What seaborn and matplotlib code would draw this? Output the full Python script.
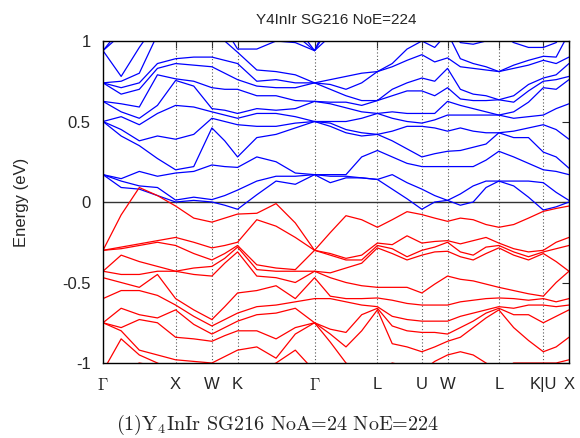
import numpy as np
import pandas as pd
import matplotlib
matplotlib.use("Agg")
import matplotlib.pyplot as plt
import seaborn as sns

# ---- k-path -------------------------------------------------------------
k_labels = [r"$\Gamma$", "X", "W", "K", r"$\Gamma$", "L", "U", "W", "L", "K|U", "X"]
seg_lengths = [1.0, 0.5, 0.3536, 1.0607, 0.8660, 0.6124, 0.3536, 0.7071, 0.6124, 0.3536]
seg_samples = [4, 2, 2, 4, 4, 3, 2, 4, 3, 2]

# ---- conduction bands (eV), one list per k sample, sorted -----------------
cb_00 = [0.17, 0.17, 0.17, 0.50, 0.50, 0.50, 0.625, 0.625, 0.74, 0.74, 0.74, 0.94, 0.94, 0.94]
cb_01 = [0.09, 0.13, 0.145, 0.41, 0.45, 0.53, 0.56, 0.61, 0.67, 0.71, 0.75, 0.78, 1.04, 1.08]
cb_02 = [0.08, 0.10, 0.19, 0.35, 0.38, 0.48, 0.52, 0.59, 0.70, 0.74, 0.80, 0.96, 1.10, 1.14]
cb_03 = [0.04, 0.09, 0.16, 0.27, 0.41, 0.55, 0.60, 0.79, 0.83, 0.86, 1.04, 1.12, 1.16, 1.20]
cb_04 = [0.0, 0.012, 0.18, 0.20, 0.39, 0.60, 0.755, 0.765, 0.86, 0.89, 1.06, 1.12, 1.16, 1.20]
cb_05 = [0.01, 0.03, 0.19, 0.22, 0.42, 0.59, 0.72, 0.75, 0.85, 0.90, 1.05, 1.10, 1.15, 1.20]
cb_06 = [0.0, 0.015, 0.23, 0.46, 0.52, 0.56, 0.58, 0.71, 0.84, 0.90, 1.05, 1.10, 1.15, 1.20]
cb_07 = [-0.02, 0.04, 0.22, 0.38, 0.50, 0.54, 0.57, 0.70, 0.80, 0.88, 1.0, 1.08, 1.12, 1.18]
cb_08 = [-0.045, 0.074, 0.215, 0.28, 0.48, 0.52, 0.55, 0.70, 0.76, 0.86, 0.93, 0.95, 1.10, 1.15]
cb_09 = [0.045, 0.13, 0.28, 0.40, 0.47, 0.55, 0.58, 0.66, 0.72, 0.75, 0.82, 0.95, 1.05, 1.15]
cb_10 = [0.13, 0.16, 0.25, 0.42, 0.47, 0.55, 0.57, 0.66, 0.71, 0.76, 0.81, 1.0, 1.08, 1.15]
cb_11 = [0.11, 0.16, 0.18, 0.46, 0.49, 0.53, 0.58, 0.63, 0.71, 0.74, 0.79, 0.99, 1.04, 1.10]
cb_12 = [0.17, 0.17, 0.17, 0.50, 0.50, 0.50, 0.625, 0.625, 0.74, 0.74, 0.74, 0.94, 0.94, 0.94]
cb_13 = [0.12, 0.16, 0.17, 0.47, 0.49, 0.50, 0.61, 0.62, 0.70, 0.73, 0.76, 1.03, 1.10, 1.15]
cb_14 = [0.15, 0.16, 0.17, 0.43, 0.45, 0.50, 0.585, 0.62, 0.66, 0.70, 0.78, 1.06, 1.10, 1.15]
cb_15 = [0.15, 0.15, 0.28, 0.41, 0.43, 0.52, 0.56, 0.60, 0.63, 0.74, 0.80, 1.06, 1.10, 1.15]
cb_16 = [0.14, 0.14, 0.32, 0.42, 0.42, 0.55, 0.55, 0.63, 0.63, 0.81, 0.81, 1.06, 1.10, 1.15]
cb_17 = [0.08, 0.17, 0.28, 0.38, 0.44, 0.52, 0.56, 0.66, 0.70, 0.84, 0.86, 1.02, 1.08, 1.12]
cb_18 = [0.02, 0.12, 0.24, 0.33, 0.47, 0.50, 0.55, 0.69, 0.74, 0.88, 0.95, 1.02, 1.08, 1.12]
cb_19 = [-0.045, 0.08, 0.22, 0.28, 0.47, 0.49, 0.55, 0.69, 0.77, 0.915, 1.0, 1.05, 1.10, 1.15]
cb_20 = [0.0, 0.04, 0.22, 0.30, 0.46, 0.51, 0.55, 0.66, 0.75, 0.87, 0.96, 1.05, 1.10, 1.15]
cb_21 = [0.01, 0.01, 0.22, 0.315, 0.44, 0.54, 0.625, 0.71, 0.83, 0.895, 1.05, 1.10, 1.15, 1.20]
cb_22 = [-0.02, 0.05, 0.22, 0.32, 0.46, 0.54, 0.60, 0.64, 0.70, 0.84, 0.89, 0.99, 1.05, 1.10]
cb_23 = [0.0, 0.10, 0.22, 0.34, 0.44, 0.54, 0.58, 0.63, 0.67, 0.83, 0.86, 0.98, 1.06, 1.12]
cb_24 = [0.09, 0.13, 0.26, 0.36, 0.43, 0.54, 0.56, 0.63, 0.66, 0.82, 0.84, 1.0, 1.08, 1.12]
cb_25 = [0.13, 0.13, 0.315, 0.43, 0.43, 0.54, 0.54, 0.635, 0.635, 0.81, 0.81, 1.05, 1.10, 1.15]
cb_26 = [0.10, 0.13, 0.28, 0.40, 0.44, 0.52, 0.56, 0.62, 0.66, 0.83, 0.85, 0.99, 1.05, 1.10]
cb_27 = [0.03, 0.13, 0.24, 0.40, 0.46, 0.53, 0.62, 0.69, 0.73, 0.85, 0.88, 0.96, 1.05, 1.10]
cb_28 = [-0.05, 0.12, 0.20, 0.31, 0.48, 0.54, 0.71, 0.75, 0.77, 0.88, 0.905, 0.96, 1.10, 1.15]
cb_29 = [-0.03, 0.06, 0.19, 0.28, 0.45, 0.58, 0.70, 0.76, 0.79, 0.86, 0.90, 0.99, 1.10, 1.15]
cb_30 = [0.0, 0.01, 0.17, 0.21, 0.39, 0.61, 0.76, 0.78, 0.86, 0.90, 1.05, 1.10, 1.15, 1.20]

# ---- valence bands (eV) -------------------------------------------------
vb_00 = [-1.25, -1.2, -1.1, -1.05, -0.75, -0.75, -0.75, -0.60, -0.47, -0.43, -0.43, -0.30, -0.30, -0.30]
vb_01 = [-1.2, -1.15, -1.05, -0.85, -0.80, -0.78, -0.66, -0.55, -0.50, -0.45, -0.33, -0.29, -0.28, -0.08]
vb_02 = [-1.15, -1.08, -1.0, -0.95, -0.92, -0.73, -0.70, -0.55, -0.53, -0.45, -0.37, -0.27, -0.26, 0.09]
vb_03 = [-1.12, -1.06, -1.02, -1.0, -0.95, -0.75, -0.72, -0.58, -0.45, -0.43, -0.40, -0.25, -0.24, 0.04]
vb_04 = [-1.2, -1.15, -1.1, -1.05, -0.98, -0.84, -0.67, -0.64, -0.60, -0.43, -0.43, -0.27, -0.22, -0.025]
vb_05 = [-1.2, -1.15, -1.1, -1.05, -0.99, -0.85, -0.76, -0.71, -0.67, -0.45, -0.41, -0.32, -0.25, -0.10]
vb_06 = [-1.25, -1.2, -1.15, -1.1, -1.0, -0.865, -0.82, -0.77, -0.73, -0.46, -0.40, -0.36, -0.285, -0.125]
vb_07 = [-1.2, -1.15, -1.1, -1.05, -0.96, -0.83, -0.78, -0.73, -0.65, -0.38, -0.35, -0.32, -0.27, -0.10]
vb_08 = [-1.2, -1.15, -1.1, -1.05, -0.92, -0.80, -0.74, -0.69, -0.565, -0.31, -0.28, -0.27, -0.25, -0.075]
vb_09 = [-1.25, -1.2, -1.15, -1.05, -0.90, -0.80, -0.70, -0.65, -0.55, -0.46, -0.42, -0.39, -0.11, -0.07]
vb_10 = [-1.25, -1.2, -1.1, -1.0, -0.97, -0.85, -0.69, -0.64, -0.52, -0.47, -0.43, -0.41, -0.15, -0.01]
vb_11 = [-1.25, -1.2, -1.1, -0.92, -0.82, -0.78, -0.66, -0.62, -0.60, -0.50, -0.43, -0.42, -0.22, -0.13]
vb_12 = [-1.25, -1.2, -1.1, -1.05, -0.75, -0.75, -0.75, -0.60, -0.47, -0.43, -0.43, -0.30, -0.30, -0.30]
vb_13 = [-1.25, -1.2, -1.1, -1.05, -0.87, -0.82, -0.79, -0.60, -0.585, -0.47, -0.44, -0.33, -0.32, -0.19]
vb_14 = [-1.25, -1.2, -1.15, -1.1, -1.0, -0.90, -0.81, -0.62, -0.60, -0.50, -0.41, -0.36, -0.35, -0.085]
vb_15 = [-1.25, -1.2, -1.15, -1.1, -1.05, -0.80, -0.70, -0.64, -0.60, -0.52, -0.38, -0.36, -0.33, -0.11]
vb_16 = [-1.25, -1.2, -1.15, -1.1, -1.05, -0.67, -0.66, -0.65, -0.596, -0.53, -0.285, -0.27, -0.255, -0.157]
vb_17 = [-1.25, -1.2, -1.15, -1.1, -1.0, -0.88, -0.77, -0.71, -0.61, -0.53, -0.32, -0.29, -0.265, -0.11]
vb_18 = [-1.25, -1.2, -1.15, -1.1, -1.02, -0.90, -0.80, -0.73, -0.63, -0.53, -0.36, -0.34, -0.21, -0.06]
vb_19 = [-1.25, -1.2, -1.15, -1.1, -1.05, -0.93, -0.81, -0.74, -0.64, -0.565, -0.33, -0.30, -0.255, -0.078]
vb_20 = [-1.25, -1.2, -1.15, -1.1, -0.99, -0.90, -0.81, -0.74, -0.64, -0.51, -0.31, -0.28, -0.245, -0.10]
vb_21 = [-1.25, -1.2, -1.15, -1.1, -0.95, -0.865, -0.82, -0.74, -0.64, -0.46, -0.306, -0.25, -0.24, -0.12]
vb_22 = [-1.25, -1.2, -1.15, -1.1, -0.93, -0.84, -0.78, -0.71, -0.62, -0.48, -0.34, -0.31, -0.26, -0.10]
vb_23 = [-1.25, -1.2, -1.15, -1.1, -0.95, -0.78, -0.74, -0.69, -0.61, -0.49, -0.36, -0.33, -0.24, -0.11]
vb_24 = [-1.25, -1.2, -1.15, -1.1, -1.0, -0.72, -0.69, -0.67, -0.60, -0.51, -0.32, -0.28, -0.22, -0.14]
vb_25 = [-1.25, -1.2, -1.15, -1.1, -1.05, -0.67, -0.66, -0.65, -0.596, -0.53, -0.285, -0.27, -0.255, -0.157]
vb_26 = [-1.25, -1.2, -1.15, -1.1, -1.0, -0.78, -0.70, -0.66, -0.60, -0.55, -0.33, -0.31, -0.29, -0.14]
vb_27 = [-1.25, -1.2, -1.15, -1.1, -1.0, -0.86, -0.70, -0.64, -0.61, -0.57, -0.36, -0.34, -0.31, -0.10]
vb_28 = [-1.25, -1.2, -1.15, -1.1, -1.0, -0.93, -0.75, -0.64, -0.60, -0.585, -0.32, -0.31, -0.30, -0.058]
vb_29 = [-1.2, -1.15, -1.1, -1.05, -1.0, -0.90, -0.71, -0.65, -0.62, -0.50, -0.37, -0.29, -0.25, -0.04]
vb_30 = [-1.2, -1.15, -1.1, -1.05, -0.98, -0.84, -0.67, -0.64, -0.60, -0.43, -0.43, -0.27, -0.22, -0.025]

y_ticks = [-1, -0.5, 0, 0.5, 1]
y_tick_labels = ["-1", "-0.5", "0", "0.5", "1"]
title = "Y4InIr SG216 NoE=224"
caption = "(1)Y$_4$InIr SG216 NoA=24 NoE=224"

# ---- build long table ----------------------------------------------------
g = globals()
cb_cols = [g[f"cb_{i:02d}"] for i in range(31)]
vb_cols = [g[f"vb_{i:02d}"] for i in range(31)]

hs_pos = np.concatenate([[0.0], np.cumsum(seg_lengths)])
k_grid = [0.0]
for s, n in enumerate(seg_samples):
    for j in range(1, n + 1):
        k_grid.append(hs_pos[s] + seg_lengths[s] * j / n)
k_grid = np.array(k_grid)

rows = []
for kind, cols in (("cond", cb_cols), ("val", vb_cols)):
    arr = np.array(cols)  # (nk, nb)
    for b in range(arr.shape[1]):
        for ik in range(arr.shape[0]):
            rows.append((kind, f"{kind}{b}", k_grid[ik], arr[ik, b]))
df = pd.DataFrame(rows, columns=["kind", "band", "k", "E"])

# ---- plot -----------------------------------------------------------------
sns.set_style("white")
plt.rcParams["mathtext.fontset"] = "cm"
plt.rcParams["font.family"] = ["Liberation Sans", "DejaVu Sans"]
plt.rcParams["axes.unicode_minus"] = False

fig = plt.figure(figsize=(5.8, 4.38), dpi=100)
ax = fig.add_axes([0.1776, 0.1712, 0.8034, 0.7352])

for x in hs_pos[1:-1]:
    ax.axvline(x, color="#555555", lw=0.8, ls=(0, (1, 2)), zorder=1)
ax.axhline(0, color="#333333", lw=1.0, zorder=1)

sns.lineplot(data=df, x="k", y="E", units="band", estimator=None, hue="kind",
             palette={"cond": "#0000ff", "val": "#ff0000"}, sort=False,
             legend=False, lw=0.9, ax=ax, zorder=2)

ax.set_xlim(hs_pos[0], hs_pos[-1])
ax.set_ylim(-1, 1)
ax.set_xticks(hs_pos)
ax.set_xticklabels(k_labels, fontsize=12)
ax.set_yticks(y_ticks)
ax.set_yticklabels(y_tick_labels, fontsize=12)
ax.tick_params(axis="y", direction="in", length=5, width=0.8, right=True, pad=9)
ax.tick_params(axis="x", direction="in", length=5, width=0.8, top=True, pad=10)
ax.set_xlabel("")
ax.set_ylabel("Energy (eV)", fontsize=12, labelpad=24)
for sp in ax.spines.values():
    sp.set_color("black")
    sp.set_linewidth(1.0)
ax.set_title(title, fontsize=11, pad=12)
fig.text(0.478, 0.03, caption, ha="center", va="center", fontsize=14.5,
         family="cmr10")

fig.savefig("out.png", dpi=100)
